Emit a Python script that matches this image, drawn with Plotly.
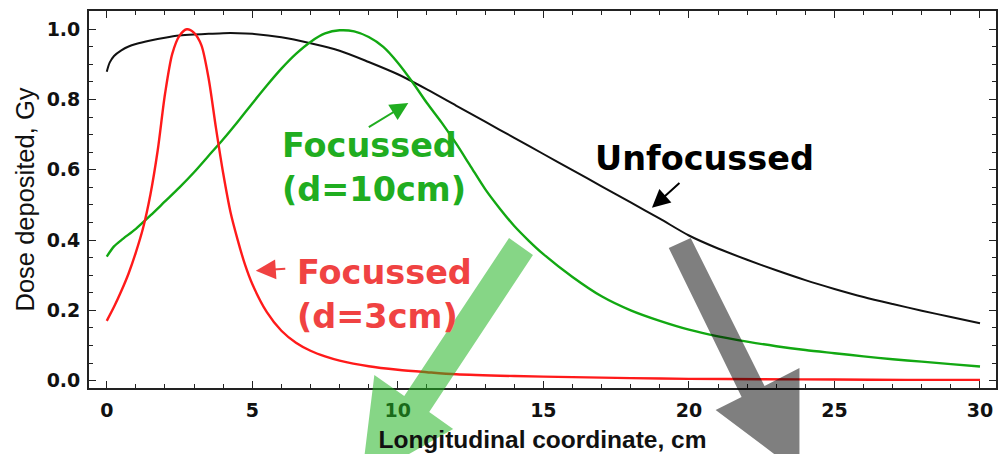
import plotly.graph_objects as go

# Longitudinal coordinate (cm) and deposited dose (Gy) for each beam
x_unfocussed = [0, 0.1, 0.25, 0.5, 0.75, 1.0, 1.5, 2.0, 2.5, 3.0, 3.5, 4.0, 4.5, 5.0,
                6.0, 7.0, 8.0, 9.0, 10.0, 11.0, 12.0, 13.0, 14.0, 15.0, 16.0, 17.0,
                18.0, 19.0, 20.0, 21.0, 22.0, 23.0, 24.0, 25.0, 26.0, 27.0, 28.0, 29.0, 30.0]
dose_unfocussed = [0.879, 0.905, 0.924, 0.940, 0.951, 0.958, 0.968, 0.976, 0.982, 0.985,
                   0.987, 0.989, 0.989, 0.987, 0.977, 0.960, 0.939, 0.907, 0.872, 0.829,
                   0.783, 0.737, 0.691, 0.645, 0.599, 0.553, 0.507, 0.461, 0.413, 0.376,
                   0.344, 0.314, 0.286, 0.261, 0.238, 0.218, 0.199, 0.181, 0.163]

x_focus10 = [0, 0.25, 0.5, 1.0, 1.5, 2.0, 2.5, 3.0, 3.5, 4.0, 4.5, 5.0, 5.5, 6.0, 6.5, 7.0,
             7.5, 8.0, 8.5, 9.0, 9.5, 10.0, 10.5, 11.0, 11.5, 12.0, 12.5, 13.0, 13.5,
             14.0, 14.5, 15.0, 16.0, 17.0, 18.0, 19.0, 20.0, 21.0, 22.0, 23.0, 24.0,
             25.0, 26.0, 27.0, 28.0, 29.0, 30.0]
dose_focus10 = [0.353, 0.382, 0.400, 0.432, 0.470, 0.510, 0.550, 0.593, 0.640, 0.687, 0.737,
                0.789, 0.840, 0.888, 0.930, 0.964, 0.988, 0.997, 0.994, 0.978, 0.950,
                0.905, 0.850, 0.790, 0.735, 0.675, 0.610, 0.545, 0.490, 0.440, 0.398,
                0.360, 0.295, 0.240, 0.200, 0.170, 0.145, 0.126, 0.111, 0.098, 0.087,
                0.078, 0.069, 0.061, 0.054, 0.047, 0.040]

x_focus3 = [0, 0.25, 0.5, 0.75, 1.0, 1.25, 1.5, 1.75, 2.0, 2.25, 2.5, 2.75, 3.0, 3.25,
            3.5, 3.75, 4.0, 4.25, 4.5, 4.75, 5.0, 5.5, 6.0, 6.5, 7.0, 7.5, 8.0, 9.0,
            10.0, 11.0, 12.0, 14.0, 16.0, 18.0, 20.0, 22.5, 25.0, 27.5, 30.0]
dose_focus3 = [0.170, 0.210, 0.255, 0.305, 0.365, 0.435, 0.530, 0.655, 0.815, 0.930,
               0.982, 1.000, 0.990, 0.955, 0.860, 0.720, 0.590, 0.480, 0.400, 0.330,
               0.275, 0.195, 0.142, 0.108, 0.085, 0.069, 0.057, 0.041, 0.031, 0.024,
               0.018, 0.013, 0.010, 0.007, 0.005, 0.004, 0.003, 0.002, 0.002]

x_ticks = [0, 5, 10, 15, 20, 25, 30]
y_ticks = [0.0, 0.2, 0.4, 0.6, 0.8, 1.0]

W, H = 1000, 454
ML, MR, MT, MB = 89, 2, 11, 66
X_RANGE = [-0.61, 30.55]
Y_RANGE = [-0.021, 1.052]

BLACK = "#111111"
RED_LINE = "#ff1a1a"
GREEN_LINE = "#12a812"
RED_TEXT = "#f04242"
GREEN_TEXT = "#20ad20"


def to_paper(px, py):
    """Figure pixel position -> paper coordinates of the plot area."""
    pw = W - ML - MR
    ph = H - MT - MB
    return (px - ML) / pw, (H - MB - py) / ph


def polygon_path(points):
    pts = [to_paper(px, py) for px, py in points]
    return "M " + " L ".join(f"{x:.4f},{y:.4f}" for x, y in pts) + " Z"


fig = go.Figure()
fig.add_trace(go.Scatter(x=x_unfocussed, y=dose_unfocussed, mode="lines",
                         line=dict(color=BLACK, width=2, shape="spline", smoothing=0.8)))
fig.add_trace(go.Scatter(x=x_focus10, y=dose_focus10, mode="lines",
                         line=dict(color=GREEN_LINE, width=2.4, shape="spline", smoothing=0.8)))
fig.add_trace(go.Scatter(x=x_focus3, y=dose_focus3, mode="lines",
                         line=dict(color=RED_LINE, width=2.4, shape="spline", smoothing=0.8)))

axis_common = dict(
    showgrid=False, zeroline=False, showline=True, linecolor="#222222", linewidth=1.8,
    mirror="allticks", ticks="inside", ticklen=7, tickwidth=1.4, tickcolor="#222222",
    tickfont=dict(family="DejaVu Sans", size=19, color="#111111", weight="bold"),
)

fig.update_xaxes(range=X_RANGE, tickvals=x_ticks, ticklabelstandoff=4,
                 minor=dict(dtick=1, ticks="inside", ticklen=4, tickwidth=1.1, tickcolor="#222222"),
                 title=dict(text="Longitudinal coordinate, cm", standoff=11,
                            font=dict(family="Liberation Sans", size=24.5, color="#111111", weight="bold")),
                 **axis_common)
fig.update_yaxes(range=Y_RANGE, tickvals=y_ticks, tickformat=".1f", ticklabelstandoff=3,
                 minor=dict(dtick=0.05, ticks="inside", ticklen=4, tickwidth=1.1, tickcolor="#222222"),
                 title=dict(text="Dose deposited, Gy", standoff=5,
                            font=dict(family="Liberation Sans", size=25.5, color="#111111")),
                 **axis_common)

# Broad translucent arrows overlaid on the figure
green_arrow = [(510, 238), (534, 255), (430, 412), (454, 429), (362, 481), (375, 375), (405, 396)]
gray_arrow = [(670, 248), (692, 238), (766, 386), (801, 368), (801, 473), (717, 410), (743, 397)]
fig.add_shape(type="path", xref="paper", yref="paper", path=polygon_path(green_arrow),
              fillcolor="rgba(35,180,35,0.55)", line=dict(width=0), layer="above")
fig.add_shape(type="path", xref="paper", yref="paper", path=polygon_path(gray_arrow),
              fillcolor="rgba(0,0,0,0.5)", line=dict(width=0), layer="above")

label_font = dict(family="DejaVu Sans", size=33.5, weight="bold")
fig.add_annotation(x=5.95, y=0.608, xref="x", yref="y", xanchor="left", yanchor="middle",
                   text="Focussed<br>(d=10cm)", showarrow=False, align="left",
                   font=dict(color=GREEN_TEXT, **label_font))
fig.add_annotation(x=16.7, y=0.631, xref="x", yref="y", xanchor="left", yanchor="middle",
                   text="Unfocussed", showarrow=False, align="left",
                   font=dict(color="#000000", **label_font))
fig.add_annotation(x=6.45, y=0.245, xref="x", yref="y", xanchor="left", yanchor="middle",
                   text="Focussed<br>(d=3cm)", showarrow=False, align="left",
                   font=dict(color=RED_TEXT, **label_font))

# Pointer arrows from the labels to their curves
fig.add_annotation(x=10.36, y=0.79, ax=-41, ay=25, text="", showarrow=True,
                   arrowhead=2, arrowsize=1.8, arrowwidth=2, arrowcolor=GREEN_TEXT)
fig.add_annotation(x=18.73, y=0.492, ax=29, ay=-26, text="", showarrow=True,
                   arrowhead=2, arrowsize=1.8, arrowwidth=2, arrowcolor="#000000")
fig.add_annotation(x=5.12, y=0.313, ax=31, ay=-2, text="", showarrow=True,
                   arrowhead=2, arrowsize=2.0, arrowwidth=2, arrowcolor=RED_TEXT)

fig.update_layout(
    width=W, height=H, margin=dict(l=ML, r=MR, t=MT, b=MB),
    paper_bgcolor="white", plot_bgcolor="white", showlegend=False,
)

fig.write_html("out.html")
